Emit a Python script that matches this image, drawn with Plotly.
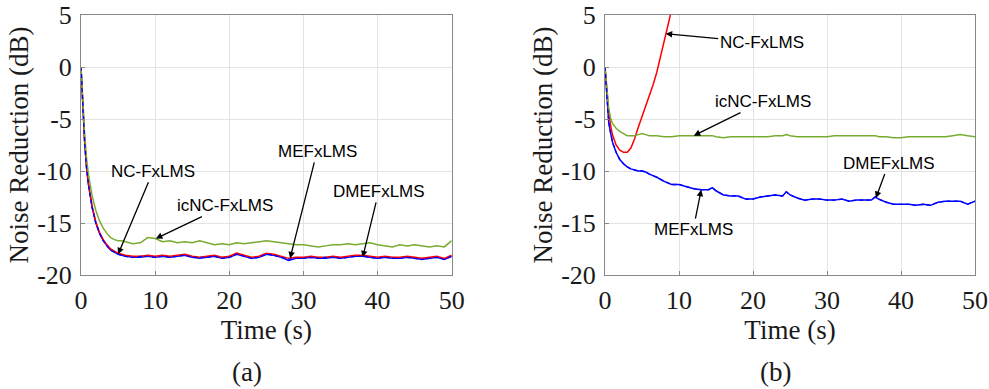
import plotly.graph_objects as go

# ---------------- Panel (a) data ----------------
T_A = [0, 0.25, 0.5, 0.75, 1, 1.5, 2, 2.5, 3, 3.5, 4, 4.5, 5, 5.5, 6,
       7, 8, 9, 10, 11, 12, 13, 14, 15, 16, 17, 18, 19, 20, 21, 22, 23, 24, 25,
       26, 27, 28, 29, 30, 31, 32, 33, 34, 35, 36, 37, 38, 39, 40, 41, 42, 43,
       44, 45, 46, 47, 48, 49, 50]

NC_A = [0, -4.0, -7.2, -9.6, -11.2, -13.4, -14.9, -15.9, -16.6, -17.1, -17.5, -17.7, -17.9, -18.0, -18.1,
        -18.2, -18.2, -18.1, -18.2, -18.1, -18.2, -18.1, -18.0, -18.2, -18.3, -18.2, -18.1, -18.3, -18.2,
        -17.9, -18.1, -18.3, -18.2, -17.9, -18.0, -18.2, -18.4, -18.3, -18.3, -18.2, -18.3, -18.3, -18.2,
        -18.3, -18.2, -18.1, -18.1, -18.2, -18.3, -18.2, -18.3, -18.3, -18.2, -18.3, -18.4, -18.3, -18.2,
        -18.4, -18.1]

ICNC_A = [0, -3.5, -6.5, -8.8, -10.3, -12.4, -13.8, -14.8, -15.5, -16.0, -16.4, -16.6, -16.7, -16.7, -16.8,
          -17.0, -16.9, -16.4, -16.5, -16.8, -16.7, -16.9, -16.8, -16.9, -16.7, -16.9, -17.1, -17.0, -17.1,
          -16.9, -17.0, -16.9, -16.8, -16.7, -16.8, -16.9, -17.0, -17.1, -17.1, -17.2, -17.3, -17.2, -17.1,
          -17.1, -17.0, -17.1, -17.0, -16.9, -17.1, -17.2, -17.3, -17.1, -17.2, -17.1, -17.2, -17.3, -17.2,
          -17.3, -16.7]

MEF_A = [0, -4.1, -7.3, -9.7, -11.3, -13.5, -15.0, -16.0, -16.7, -17.2, -17.6, -17.8, -18.0, -18.1, -18.2,
         -18.3, -18.3, -18.2, -18.3, -18.2, -18.3, -18.2, -18.1, -18.3, -18.4, -18.3, -18.2, -18.4, -18.3,
         -18.0, -18.2, -18.4, -18.3, -18.0, -18.1, -18.3, -18.6, -18.4, -18.4, -18.3, -18.4, -18.4, -18.3,
         -18.4, -18.3, -18.2, -18.2, -18.3, -18.4, -18.3, -18.4, -18.4, -18.3, -18.4, -18.5, -18.4, -18.3,
         -18.5, -18.2]

DMEF_A = [0, -4.1, -7.3, -9.7, -11.3, -13.5, -15.0, -16.0, -16.7, -17.2, -17.6, -17.8, -18.0, -18.1, -18.2,
          -18.3, -18.2, -18.2, -18.3, -18.2, -18.3, -18.2, -18.1, -18.3, -18.3, -18.3, -18.2, -18.4, -18.3,
          -18.0, -18.2, -18.4, -18.3, -18.0, -18.1, -18.3, -18.5, -18.4, -18.4, -18.3, -18.4, -18.3, -18.3,
          -18.4, -18.3, -18.2, -18.2, -18.3, -18.4, -18.3, -18.4, -18.4, -18.3, -18.4, -18.5, -18.4, -18.3,
          -18.5, -18.2]

# ---------------- Panel (b) data ----------------
T_NC_B = [0, 0.25, 0.5, 0.75, 1, 1.5, 2, 2.5, 3, 3.5, 4, 4.5, 5, 5.5, 6, 6.5, 7, 7.5, 8, 8.5, 9, 9.5]
NC_B = [0, -2.5, -4.3, -5.6, -6.5, -7.5, -8.0, -8.2, -8.2, -7.8, -6.9, -5.8, -4.8, -3.8, -2.8, -1.7,
        -0.5, 1.0, 2.6, 4.1, 5.6, 7.0]

T_B = [0, 0.25, 0.5, 0.75, 1, 1.5, 2, 2.5, 3, 3.5, 4, 4.5, 5, 5.5, 6,
       7, 8, 9, 10, 11, 12, 13, 14, 14.5, 15, 16, 17, 18, 19, 20, 21, 22, 23, 24, 24.5, 25,
       26, 27, 28, 29, 30, 31, 32, 33, 34, 35, 36, 36.5, 37, 38, 39, 40, 41, 42, 43,
       44, 45, 46, 47, 48, 49, 50]

ICNC_B = [0, -2.5, -4.0, -4.9, -5.4, -5.9, -6.2, -6.4, -6.6, -6.6, -6.6, -6.5, -6.4, -6.5, -6.6,
          -6.6, -6.7, -6.7, -6.6, -6.6, -6.6, -6.6, -6.6, -6.6, -6.7, -6.8, -6.7, -6.7, -6.7, -6.7, -6.7,
          -6.7, -6.6, -6.6, -6.5, -6.6, -6.7, -6.7, -6.7, -6.7, -6.7, -6.6, -6.6, -6.6, -6.6, -6.6, -6.6,
          -6.6, -6.7, -6.7, -6.8, -6.8, -6.7, -6.7, -6.7, -6.7, -6.7, -6.7, -6.6, -6.5, -6.6, -6.7]

MEF_B = [0, -3.0, -5.3, -6.3, -7.2, -8.2, -8.9, -9.3, -9.6, -9.8, -9.9, -10.0, -10.0, -10.1, -10.3,
         -10.6, -11.0, -11.3, -11.3, -11.5, -11.7, -11.8, -11.8, -11.6, -11.9, -12.3, -12.4, -12.4, -12.7,
         -12.7, -12.5, -12.4, -12.3, -12.4, -12.0, -12.3, -12.6, -12.8, -12.7, -12.7, -12.8, -12.8, -12.7,
         -12.9, -12.8, -12.8, -12.8, -12.5, -12.7, -13.0, -13.2, -13.2, -13.2, -13.3, -13.2, -13.3, -13.0,
         -12.9, -12.9, -12.9, -13.2, -12.9]

DMEF_B = [0, -3.0, -5.3, -6.3, -7.2, -8.2, -8.9, -9.3, -9.6, -9.8, -9.9, -10.0, -10.0, -10.1, -10.3,
          -10.6, -11.0, -11.3, -11.3, -11.5, -11.7, -11.8, -11.8, -11.6, -11.9, -12.3, -12.4, -12.4, -12.7,
          -12.7, -12.5, -12.4, -12.3, -12.4, -12.0, -12.3, -12.6, -12.8, -12.7, -12.7, -12.8, -12.8, -12.7,
          -12.9, -12.8, -12.8, -12.8, -12.5, -12.7, -13.0, -13.2, -13.2, -13.2, -13.3, -13.2, -13.3, -13.0,
          -12.9, -12.9, -12.9, -13.2, -12.9]

X_TICKS = [0, 10, 20, 30, 40, 50]
X_TICK_TEXT = ["0", "10", "20", "30", "40", "50"]
Y_TICKS = [-20, -15, -10, -5, 0, 5]
Y_TICK_TEXT = ["-20", "-15", "-10", "-5", "0", "5"]

RED = "#ff0000"
GREEN = "#77ac30"
BLUE = "#0000ff"

fig = go.Figure()

def add_panel(xa, ya, t_mef, mef, t_nc, nc, t_ic, ic, t_dm, dm):
    fig.add_trace(go.Scatter(x=t_mef, y=mef, mode="lines", name="MEFxLMS",
                             line=dict(color=BLUE, width=1.5), xaxis=xa, yaxis=ya))
    fig.add_trace(go.Scatter(x=t_nc, y=nc, mode="lines", name="NC-FxLMS",
                             line=dict(color=RED, width=1.5), xaxis=xa, yaxis=ya))
    fig.add_trace(go.Scatter(x=t_ic, y=ic, mode="lines", name="icNC-FxLMS",
                             line=dict(color=GREEN, width=1.5), xaxis=xa, yaxis=ya))
    fig.add_trace(go.Scatter(x=t_dm, y=dm, mode="lines", name="DMEFxLMS",
                             line=dict(color=BLUE, width=1.3, dash="4px,3px"), xaxis=xa, yaxis=ya))

add_panel("x", "y", T_A, MEF_A, T_A, NC_A, T_A, ICNC_A, T_A, DMEF_A)
add_panel("x2", "y2", T_B, MEF_B, T_NC_B, NC_B, T_B, ICNC_B, T_B, DMEF_B)

W, H = 989, 389
ydom = [(H - 275) / H, (H - 15) / H]

tickfont = dict(family="Liberation Serif", size=26, color="#1a1a1a")
titlefont = dict(family="Liberation Serif", size=27, color="#1a1a1a")

def xaxis_cfg(dom, anchor):
    return dict(domain=dom, anchor=anchor, range=[0, 50], tickvals=X_TICKS, ticktext=X_TICK_TEXT,
                showline=True, mirror=True, linecolor="#888888", linewidth=1,
                showgrid=True, gridcolor="#e3e3e3", gridwidth=1, zeroline=False,
                ticks="inside", ticklen=4, tickwidth=1, tickcolor="#888888",
                tickfont=tickfont, ticklabelstandoff=2, automargin=False,
                title=dict(text="Time (s)", font=titlefont, standoff=4))

def yaxis_cfg(anchor):
    return dict(domain=ydom, anchor=anchor, range=[-20, 5], tickvals=Y_TICKS, ticktext=Y_TICK_TEXT,
                showline=True, mirror=True, linecolor="#888888", linewidth=1,
                showgrid=True, gridcolor="#e3e3e3", gridwidth=1, zeroline=False,
                ticks="inside", ticklen=4, tickwidth=1, tickcolor="#888888",
                tickfont=tickfont, ticklabelstandoff=3, automargin=False,
                title=dict(text="Noise Reduction (dB)", font=titlefont, standoff=0))

fig.update_layout(
    width=W, height=H,
    margin=dict(l=0, r=0, t=0, b=0),
    paper_bgcolor="white", plot_bgcolor="white",
    showlegend=False,
    xaxis=xaxis_cfg([81 / W, 451.7 / W], "y"),
    yaxis=yaxis_cfg("x"),
    xaxis2=xaxis_cfg([605 / W, 975 / W], "y2"),
    yaxis2=yaxis_cfg("x2"),
)

afont = dict(family="Liberation Sans", size=17, color="#000000")
ann_specs = [
    ("x", "y", 5.0, -18.0, "NC-FxLMS", 35, -83),
    ("x", "y", 10.1, -16.5, "icNC-FxLMS", 69, -33),
    ("x", "y", 28.2, -18.4, "MEFxLMS", 27, -107),
    ("x", "y", 38.0, -18.3, "DMEFxLMS", 16, -66),
    ("x2", "y2", 8.2, 3.2, "NC-FxLMS", 96, 9),
    ("x2", "y2", 12.0, -6.6, "icNC-FxLMS", 69, -34),
    ("x2", "y2", 36.6, -12.6, "DMEFxLMS", 13, -35),
    ("x2", "y2", 13.0, -11.8, "MEFxLMS", -8, 40),
]
for xr, yr, xv, yv, txt, ax, ay in ann_specs:
    fig.add_annotation(xref=xr, yref=yr, x=xv, y=yv, text=txt, showarrow=True,
                       ax=ax, ay=ay, arrowhead=2, arrowsize=1, arrowwidth=1.3,
                       arrowcolor="#000000", font=afont, standoff=0)

capfont = dict(family="Liberation Serif", size=27, color="#1a1a1a")
fig.add_annotation(xref="paper", yref="paper", x=247 / W, y=(H - 372) / H, text="(a)",
                   showarrow=False, font=capfont, xanchor="center", yanchor="middle")
fig.add_annotation(xref="paper", yref="paper", x=775 / W, y=(H - 372) / H, text="(b)",
                   showarrow=False, font=capfont, xanchor="center", yanchor="middle")

fig.write_html("out.html", config={"displayModeBar": False},
               post_script="document.body.style.margin='0';document.body.style.overflow='hidden';")
